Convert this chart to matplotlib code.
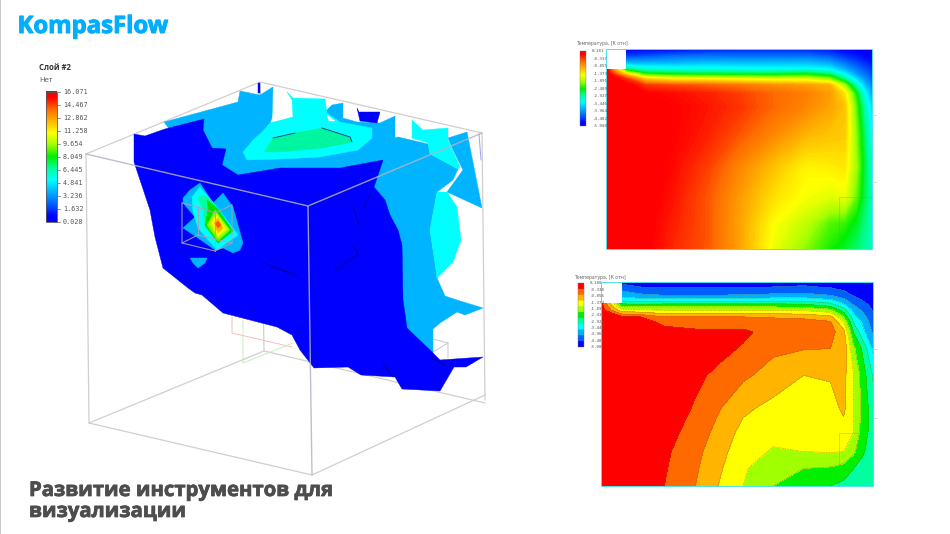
import numpy as np
import matplotlib
matplotlib.use("Agg")
import matplotlib.pyplot as plt
import matplotlib.patheffects as pe
from matplotlib.colors import LinearSegmentedColormap, ListedColormap
from matplotlib.patches import Polygon, Rectangle

# ---------- data (image pixel coordinates) ----------
scale3d_labels = ["16.071", "14.467", "12.862", "11.258", "9.654", "8.049", "6.445", "4.841", "3.236", "1.632", "0.028"]
top_labels = ["0.181", "-0.337", "-0.855", "-1.373", "-1.891", "-2.409", "-2.927", "-3.446", "-3.964", "-4.482", "-5.000"]
bot_labels = ["0.180", "-0.338", "-0.856", "-1.374", "-1.892", "-2.410", "-2.928", "-3.446", "-3.964", "-4.482", "-5.000"]
band_colors = ["#0000ff", "#0060ff", "#00b0ff", "#00ffff", "#00ffa0", "#00f000",
               "#a0ff00", "#ffff00", "#ffb400", "#ff6a00", "#ff0000"]

surf_light = [(164,122),(238,102),(240,91),(260,95),(273,87),(272,118),(270,123),(300,130),(325,112),(332,105),(343,103),
              (343,118),(357,122),(380,123),(395,116),(395,138),(398,137),(428,144),(430,154),(458,169),(453,180),(437,192),
              (430,230),(435,263),(437,278),(445,296),(457,300),(483,308),(465,315),(457,312),(440,323),(433,329),(433,355),
              (400,330),(300,250),(200,170)]
surf_light_right = [(448,138),(467,132),(482,208),(447,192),(463,170),(453,150)]
surf_cyan = [(270,123),(293,117),(292,100),(287,92),(293,98),(325,99),(327,113),(340,122),(372,128),(372,138),(358,150),
             (320,157),(280,159),(247,160),(243,152),(253,140),(262,132)]
surf_cyan_top = [(412,120),(423,130),(448,128),(448,140),(460,167),(458,169),(430,154),(428,143),(412,138)]
surf_cyan_low = [(437,192),(447,192),(457,207),(461,240),(453,262),(437,278),(435,263),(430,230)]
surf_teal = [(264,152),(273,138),(295,133),(322,128),(350,137),(352,142),(323,148),(280,152)]
surf_blue = [(134,134),(145,136),(165,129),(204,119),(203,130),(212,148),(226,149),(222,165),(238,175),(280,168),(340,168),
             (383,160),(374,187),(385,200),(390,215),(398,230),(402,245),(403,300),(407,328),(432,352),(440,360),(483,357),
             (466,367),(454,367),(440,391),(402,389),(395,377),(361,375),(348,367),(314,368),(300,350),(292,335),(277,327),
             (223,313),(202,295),(195,293),(188,288),(163,268),(155,237),(150,210),(134,162)]
surf_blue_notch = [(357,108),(359,112),(380,112),(377,123),(360,121)]
surf_blue_tick = [(258,83),(260,83),(260,93),(258,93)]
surf_white_gap = [(327,115),(335,121),(329,121)]
spot_light = [(183,198),(190,190),(200,183),(213,203),(223,193),(233,207),(243,243),(240,250),(233,253),(223,248),(215,250),
              (198,238),(183,228),(195,217),(183,203)]
spot_light_small = [(190,258),(207,258),(205,263),(198,268),(193,263)]
spot_layers = [
    ("#00ffff", [(192,197),(200,187),(217,207),(238,235),(217,250),(198,228),(193,212)]),
    ("#00ffa0", [(198,198),(205,195),(215,205),(230,232),(218,243),(205,227),(203,210)]),
    ("#00e000", [(207,200),(217,208),(233,231),(218,243),(205,225),(208,210)]),
    ("#70ff00", [(215,210),(230,230),(218,241),(207,225)]),
    ("#c8ff00", [(216,213),(228,229),(218,238),(209,223)]),
    ("#ffff00", [(216,215),(225,229),(218,236),(212,223)]),
    ("#ffb400", [(218,218),(223,228),(218,233),(214,223)]),
    ("#ff5a00", [(218,221),(221,225),(218,228),(215,224)]),
]
streaks = [[(353,205),(355,213),(359,225)], [(371,193),(363,209)], [(353,244),(358,254),(335,271)], [(280,269),(297,276)],
           [(383,364),(393,377)], [(432,358),(445,365)], [(263,263),(290,273)], [(273,138),(295,133)],
           [(322,128),(350,137),(352,142)]]
box_back = [[(86,154),(260,82),(482,133)], [(260,82),(264,351)], [(89,423),(264,351),(485,403)], [(86,154),(89,423)],
            [(482,133),(485,400)], [(89,423),(312,475),(485,395)]]
box_front = [[(86,154),(308,206),(482,133)], [(308,206),(312,475)]]
small_box = [[(182,203),(182,243),(215,251),(232,243),(232,205)], [(182,203),(198,207),(215,213),(232,205)],
             [(215,213),(215,251)], [(198,207),(198,235)], [(182,243),(198,235),(232,243)]]
red_frame = [(232,317),(232,333),(292,347)]
green_frame = [(243,320),(243,363),(293,343)]
gray_frame = [[(433,339),(448,343),(448,358)], [(448,343),(433,352)]]
corner_tick = [(479,134),(481,160)]

# lower panel field, read as contour band number (0 blue ... 11 red) at these panel positions
field_x = np.array([0, 61, 118, 190, 283, 351, 426, 516, 608, 688, 728, 758, 783, 816]) / 816
field_y = np.array([0, 15, 40, 55, 70, 85, 105, 120, 150, 200, 280, 380, 450, 510, 560, 613]) / 613
field_bands = np.array([
 [10.5,  .6,  .6,  .5,  .5,  .5,  .5,  .6,  .7,  .5,  .3,  .2,  .1, .05],
 [10.5, 1.5, 1.0,  .9,  .9,  .9, .95, 1.0, 1.1,  .9,  .6,  .4,  .3,  .1],
 [10.5, 2.6, 2.2, 2.0, 2.0, 2.0, 2.1, 2.2, 2.3, 2.0, 1.5,  .9,  .7,  .3],
 [10.5, 3.7, 3.5, 3.6, 3.6, 3.6, 3.6, 3.7, 3.7, 3.2, 2.3, 1.4, 1.0,  .5],
 [10.5, 5.5, 5.4, 5.5, 5.5, 5.5, 5.5, 5.5, 5.4, 4.6, 3.3, 2.0, 1.5,  .7],
 [10.5, 7.5, 7.2, 7.0, 7.0, 7.0, 7.0, 7.0, 6.9, 6.4, 4.5, 2.6, 1.9,  .9],
 [10.5,10.2,10.0, 9.0, 9.0, 9.0, 9.0, 8.9, 8.8, 8.3, 6.0, 3.3, 2.5, 1.2],
 [10.5,10.5,10.5, 9.7, 9.5, 9.5, 9.5, 9.4, 9.3, 9.1, 7.0, 3.9, 2.9, 1.4],
 [10.5,11.0,11.0,10.4,10.2,10.2,10.2, 9.6, 9.4, 9.4, 8.3, 4.9, 3.4, 1.8],
 [10.5,11.0,11.0,10.8,10.4,10.3, 9.9, 9.2, 9.05,9.0, 8.7, 6.2, 4.9, 2.8],
 [10.5,11.0,11.0,10.8,10.2, 9.8, 9.2, 8.6, 8.0, 8.1, 8.3, 7.0, 5.6, 3.9],
 [10.5,11.0,11.0,10.6, 9.9, 9.1, 8.2, 7.7, 7.6, 7.6, 8.2, 7.0, 5.8, 4.4],
 [10.5,11.0,11.0,10.4, 9.6, 8.7, 7.7, 7.3, 7.3, 7.3, 7.6, 7.0, 5.6, 4.5],
 [10.5,11.0,11.0,10.2, 9.3, 8.4, 7.4, 6.9, 7.0, 7.05,7.0, 6.2, 5.2, 4.4],
 [10.5,11.0,10.8,10.1, 9.15,8.2, 7.15,6.3, 6.0, 5.9, 5.6, 5.0, 4.6, 4.2],
 [10.5,11.0,10.6,10.0, 9.0, 8.0, 7.0, 6.0, 5.4, 5.0, 4.7, 4.4, 4.2, 4.0],
])
# upper panel field, read the same way
upper_x = np.array([0, 60, 118, 203, 303, 403, 503, 603, 673, 718, 753, 778, 800]) / 800
upper_y = np.array([0, 19, 44, 59, 74, 89, 109, 134, 174, 254, 354, 444, 524, 602]) / 602
upper_bands = np.array([
 [10.9,  .5,  .5,  .5,  .7,  .8,  .8,  .8,  .7,  .5,  .4,  .4,  .4],
 [10.9, 1.0, 1.2, 1.5, 1.6, 1.6, 1.6, 1.6, 1.3,  .9,  .7,  .5,  .4],
 [10.9, 2.8, 2.7, 2.7, 2.8, 2.8, 2.8, 2.8, 2.5, 1.8, 1.3, 1.0,  .7],
 [10.9, 4.5, 3.8, 3.7, 3.7, 3.5, 3.5, 3.5, 3.3, 2.4, 1.7, 1.3, 1.0],
 [10.9, 7.8, 5.5, 5.2, 5.0, 5.0, 5.0, 5.2, 4.7, 3.3, 2.2, 1.7, 1.2],
 [10.9,10.0, 8.0, 7.4, 7.4, 7.2, 7.0, 7.0, 6.3, 4.5, 3.0, 2.1, 1.5],
 [10.9,10.7,10.0, 9.8, 9.6, 9.3, 9.0, 8.8, 8.5, 6.5, 4.2, 2.8, 1.9],
 [10.9,10.8,10.5,10.4,10.2, 9.9, 9.5, 9.2, 8.8, 7.8, 5.5, 3.6, 2.4],
 [10.9,10.9,10.7,10.5,10.3,10.0, 9.5, 9.1, 8.7, 8.3, 6.0, 4.3, 3.0],
 [10.9,10.9,10.7,10.5,10.2, 9.7, 9.1, 8.5, 8.3, 8.2, 6.3, 4.8, 3.5],
 [10.9,10.9,10.7,10.4, 9.9, 9.1, 8.3, 7.6, 7.7, 7.8, 6.5, 5.1, 4.0],
 [10.9,10.9,10.7,10.3, 9.7, 8.8, 7.9, 7.4, 7.2, 7.3, 6.1, 5.0, 4.2],
 [10.9,10.9,10.6,10.2, 9.7, 8.7, 7.5, 6.8, 6.0, 5.8, 5.3, 4.7, 4.2],
 [10.9,10.8,10.6,10.1, 9.7, 8.7, 7.3, 6.3, 5.6, 5.2, 4.8, 4.5, 4.3],
])
T_MIN, T_MAX = -5.0, 0.181

# ---------- figure ----------
fig = plt.figure(figsize=(9.5, 5.34), dpi=100)
ax = fig.add_axes([0, 0, 1, 1])
ax.set_xlim(0, 950)
ax.set_ylim(534, 0)
ax.axis("off")

smooth = LinearSegmentedColormap.from_list(
    "band", [(0, band_colors[0])] + [((i + .5) / 11, c) for i, c in enumerate(band_colors)] + [(1, band_colors[-1])])
discrete = ListedColormap(band_colors)


def poly(pts, color, z):
    ax.add_patch(Polygon(pts, closed=True, fc=color, ec=color, lw=.3, zorder=z))


def lines(paths, color, lw, z, alpha=1):
    for p in paths:
        a = np.array(p)
        ax.plot(a[:, 0], a[:, 1], color=color, lw=lw, zorder=z, alpha=alpha, solid_capstyle="round")


# left page edge
ax.add_patch(Rectangle((0, 0), 1.3, 534, fc="#c8c8c8", ec="none", zorder=1))

# headings
heavy = [pe.withStroke(linewidth=.7, foreground="#00aeff")]
heavy2 = [pe.withStroke(linewidth=.55, foreground="#4d4d4d")]
ax.text(17.5, 27, "KompasFlow", color="#00aeff", fontsize=17.2, fontweight="bold", family="Open Sans", va="center", ha="left", zorder=20, path_effects=heavy)
ax.text(29, 491, "Развитие инструментов для", color="#4d4d4d", fontsize=14.6, fontweight="bold", family="Open Sans", va="center", zorder=20, path_effects=heavy2)
ax.text(29, 512, "визуализации", color="#4d4d4d", fontsize=14.6, fontweight="bold", family="Open Sans", va="center", zorder=20, path_effects=heavy2)

# 3D box, behind
lines(box_back, "#cfcfcf", .9, 2)
lines([red_frame], "#ffb0b0", .6, 2)
lines([green_frame], "#b8f0a8", .6, 2)
lines(gray_frame, "#c9c9c9", .7, 2)
lines([corner_tick], "#a0a0f0", .7, 2)

# surface
poly(surf_light, "#00b4ff", 3)
poly(surf_light_right, "#00b4ff", 3)
poly(surf_cyan, "#00ffff", 4)
poly(surf_cyan_top, "#00ffff", 4)
poly(surf_cyan_low, "#00ffff", 4)
poly(surf_teal, "#00f5a0", 5)
poly(surf_white_gap, "white", 5)
poly(surf_blue, "#0000ff", 6)
poly(surf_blue_notch, "#0000ff", 6)
poly(surf_blue_tick, "#0000ff", 6)
poly(spot_light, "#00b4ff", 7)
poly(spot_light_small, "#00b4ff", 7)
for i, (c, pts) in enumerate(spot_layers):
    poly(pts, c, 7.1 + i * .1)
lines(streaks, "#000070", .6, 8.5, .8)
lines(box_front, "#b4b4c4", 1.0, 9, .85)
lines(small_box, "#a8a0b8", .8, 9, .9)

# scale of the 3D view
grad = np.linspace(1, 0, 256)[:, None]
ax.imshow(grad, extent=(45.5, 56.5, 222, 91.5), cmap=smooth, vmin=0, vmax=1, aspect="auto", zorder=10)
ax.add_patch(Rectangle((45.5, 91.5), 11, 130.5, fc="none", ec="#555555", lw=.6, zorder=11))
for lab, y in zip(scale3d_labels, np.linspace(92.3, 222, len(scale3d_labels))):
    ax.plot([56.5, 59.5], [y, y], color="#666666", lw=.5, zorder=11)
    ax.text(63, y, lab, fontsize=4.9, family="DejaVu Sans Mono", color="#555555", va="center", ha="left", zorder=11)
ax.text(39, 67.5, "Слой #2", fontsize=5.6, fontweight="bold", family="Open Sans", color="#333333", va="center")
ax.text(39, 80, "Нет", fontsize=5.6, family="Open Sans", color="#555555", va="center")


def panel(x0, x1, y0, y1, cut, fx, fy, bands, filled):
    X, Y = np.meshgrid(x0 + fx * (x1 - x0), y0 + fy * (y1 - y0))
    temperature = T_MIN + (T_MAX - T_MIN) * bands / 11
    if filled:
        levels = np.linspace(T_MIN, T_MAX, 12)
        ax.contourf(X, Y, temperature, levels=levels, cmap=discrete, zorder=3, extend="both")
        ax.contour(X, Y, temperature, levels=levels[1:-1], colors="#7a6a20", linewidths=.35, alpha=.7, zorder=3.5)
    else:
        levels = np.linspace(T_MIN, T_MAX, 201)
        ax.contourf(X, Y, temperature, levels=levels, cmap=smooth, zorder=3, extend="both")
    ax.add_patch(Rectangle((x0, y0), cut, cut, fc="white", ec="none", zorder=4))
    ax.add_patch(Rectangle((x0, y0), x1 - x0, y1 - y0, fc="none", ec="#50e0f0", lw=.7, zorder=5))
    bx = x0 + .875 * (x1 - x0)
    by = y0 + .74 * (y1 - y0)
    lines([[(bx, y1), (bx, by), (x1, by)]], "#909060", .5, 5, .45)
    lines([[(x1, y0 + .33 * (y1 - y0)), (x1 + 4, y0 + .33 * (y1 - y0))],
           [(x1, y0 + .665 * (y1 - y0)), (x1 + 4, y0 + .665 * (y1 - y0))]], "#cccccc", .5, 5)


panel(606, 872, 49, 249, 20, upper_x, upper_y, upper_bands, False)
panel(601, 873, 282, 486, 20.5, field_x, field_y, field_bands, True)

# small scales
for bx, y0, y1, tx, ty, labels, cm in [(580, 51, 126, 576, 44, top_labels, smooth),
                                       (577.5, 283, 347, 574, 277, bot_labels, discrete)]:
    ax.imshow(grad, extent=(bx, bx + 6, y1, y0), cmap=cm, vmin=0, vmax=1, aspect="auto", zorder=10)
    ax.add_patch(Rectangle((bx, y0), 6, y1 - y0, fc="none", ec="#777777", lw=.3, zorder=11))
    ax.text(tx, ty, "Температура, [К отн]", fontsize=3.3, color="#666666", family="DejaVu Sans", va="center", zorder=11)
    for lab, y in zip(labels, np.linspace(y0 + .5, y1, len(labels))):
        ax.text(bx + 12, y, lab, fontsize=3.0, family="DejaVu Sans Mono", color="#555555", va="center", zorder=11)

ax.set_xlim(0, 950)
ax.set_ylim(534, 0)
fig.savefig("out.png", dpi=100, facecolor="white")
